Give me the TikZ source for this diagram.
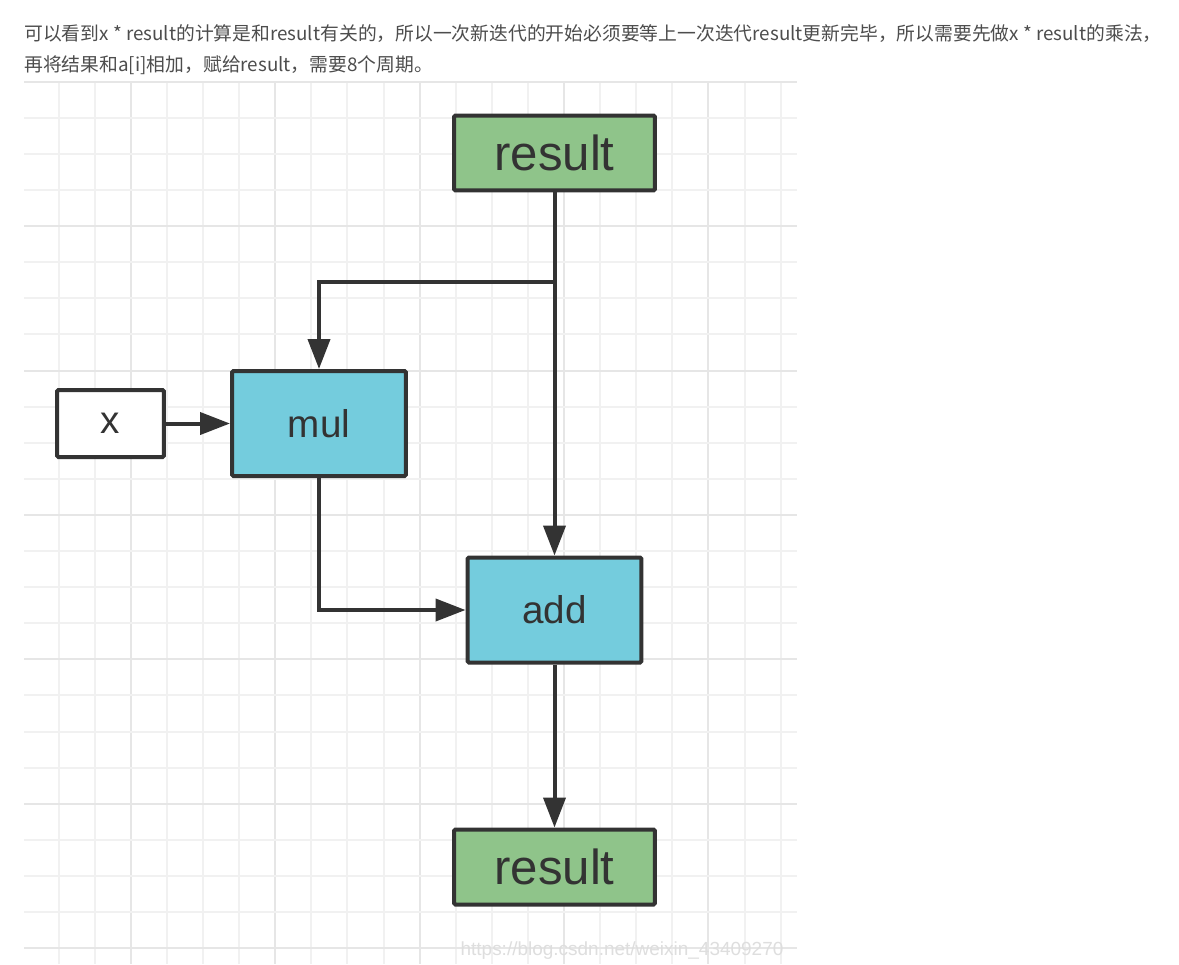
\documentclass[tikz,border=0pt]{standalone}
\usepackage{fontspec}
\setmainfont{Liberation Sans}
\newfontfamily\cjkfont{Noto Sans CJK SC}
\usetikzlibrary{arrows.meta}
\definecolor{boxline}{HTML}{333333}
\definecolor{resgreen}{HTML}{8FC48A}
\definecolor{opcyan}{HTML}{74CCDD}
\definecolor{gridlight}{HTML}{F1F1F1}
\definecolor{griddark}{HTML}{E6E6E6}
\definecolor{prose}{HTML}{4D4D4D}
\definecolor{wmark}{HTML}{DEDEDE}
\tikzstyle{block} = [draw=boxline, line width=0.08cm, rounded corners=0.03cm, text=boxline, inner sep=0pt]
\tikzstyle{resbox} = [block, fill=resgreen, minimum width=4.02cm, minimum height=1.5cm, font=\fontsize{28}{30}\selectfont]
\tikzstyle{opbox} = [block, fill=opcyan, minimum width=3.48cm, minimum height=2.1cm, font=\fontsize{22}{24}\selectfont]
\tikzstyle{inbox} = [block, fill=white, minimum width=2.14cm, minimum height=1.34cm, font=\fontsize{22}{24}\selectfont]
\tikzstyle{arrow} = [draw=boxline, line width=0.08cm, -{Triangle[length=0.6cm, width=0.44cm]}]
\tikzstyle{prosetext} = [anchor=base west, inner sep=0pt, text=prose, font=\cjkfont\fontsize{10.7}{13}\selectfont]

\begin{document}
\begin{tikzpicture}[x=0.02cm, y=-0.02cm]
	\useasboundingbox[fill=white] (0,0) rectangle (1179,964);
	% background grid
	\foreach \k in {1,...,21} {
		\pgfmathtruncatemacro{\dk}{mod(\k,4)==3}
		\ifnum\dk=1 \def\gc{griddark}\else\def\gc{gridlight}\fi
		\draw[\gc, line width=0.04cm] (22.5+36.1*\k,82) -- (22.5+36.1*\k,964);
	}
	\foreach \k in {0,...,24} {
		\pgfmathtruncatemacro{\dk}{mod(\k,4)==0}
		\ifnum\dk=1 \def\gc{griddark}\else\def\gc{gridlight}\fi
		\draw[\gc, line width=0.04cm] (24,81.7+36.1*\k) -- (797,81.7+36.1*\k);
	}
	\node[prosetext] (line1) at (24,40) {可以看到x * result的计算是和result有关的，所以一次新迭代的开始必须要等上一次迭代result更新完毕，所以需要先做x * result的乘法，};
	\node[prosetext] (line2) at (24,71) {再将结果和a[i]相加，赋给result，需要8个周期。};
	% blocks
	\node[resbox] (restop) at (554.5,153) {result};
	\node[inbox] (xin) at (110.5,423.5) {x};
	\node[opbox] (mul) at (319,423.5) {mul};
	\node[opbox] (add) at (554.5,610) {add};
	\node[resbox] (resbot) at (554.5,867) {result};
	\coordinate (fork) at (554.5,282);
	% connectors
	\draw[arrow] (restop.south) -- (add.north);
	\draw[arrow] (fork) -| (mul.north);
	\draw[arrow] (xin.east) -- (mul.west);
	\draw[arrow] (mul.south) |- (add.west);
	\draw[arrow] (add.south) -- (resbot.north);
	\node[anchor=base, inner sep=0pt, text=wmark, font=\fontsize{10.8}{12}\selectfont] (wm) at (622,955) {https://blog.csdn.net/weixin\_43409270};
\end{tikzpicture}
\end{document}
